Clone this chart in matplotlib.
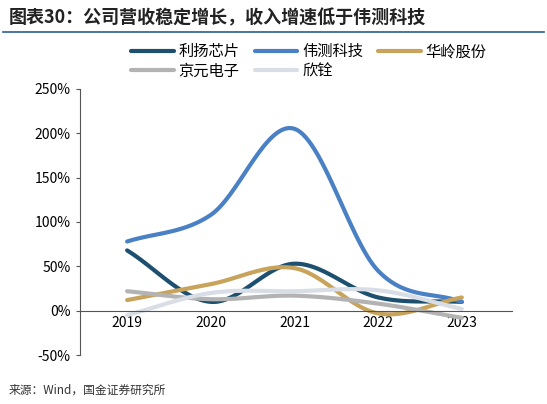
import numpy as np
import matplotlib
matplotlib.use("Agg")
import matplotlib.pyplot as plt
from matplotlib.lines import Line2D

plt.rcParams['font.family'] = ['Noto Sans CJK SC', 'DejaVu Sans']

years = [2019, 2020, 2021, 2022, 2023]
names = ['利扬芯片', '伟测科技', '华岭股份', '京元电子', '欣铨']
liyang = [68, 10, 53, 15, 10]
weice = [78, 108, 205, 45, 10]
hualing = [12, 30, 48, -3, 15]
jingyuan = [22, 13, 17, 8, -8]
xinquan = [-5, 20, 22, 23, 2]
series = [liyang, weice, hualing, jingyuan, xinquan]
colors = ['#1d4f6e', '#4a80c4', '#c8a35c', '#b3b3b3', '#d8dde6']

def smooth(x, y, n=30):
    x = np.asarray(x, float); y = np.asarray(y, float)
    px = np.concatenate([[2*x[0]-x[1]], x, [2*x[-1]-x[-2]]])
    py = np.concatenate([[2*y[0]-y[1]], y, [2*y[-1]-y[-2]]])
    xs, ys = [], []
    for i in range(1, len(px)-2):
        t = np.linspace(0, 1, n)
        for arr, out in ((px, xs), (py, ys)):
            p0, p1, p2, p3 = arr[i-1], arr[i], arr[i+1], arr[i+2]
            out.extend(0.5*((2*p1) + (-p0+p2)*t + (2*p0-5*p1+4*p2-p3)*t**2 + (-p0+3*p1-3*p2+p3)*t**3))
    return np.array(xs), np.array(ys)

fig = plt.figure(figsize=(5.47, 4.04), dpi=100)
fig.text(0.015, 0.955, '图表30：公司营收稳定增长，收入增速低于伟测科技', fontsize=13,
         fontweight='bold', style='italic', va='center', color='#222222')
fig.add_artist(Line2D([0.005, 0.995], [0.922, 0.922], color='#2a5f8f', lw=1.2))
fig.text(0.015, 0.035, '来源：Wind，国金证券研究所', fontsize=8.5, va='center', color='#333333')

ax = fig.add_axes([0.146, 0.121, 0.79, 0.659])
handles = []
for s, c, nm in zip(series, colors, names):
    xs, ys = smooth(years, s)
    h, = ax.plot(xs, ys, color=c, lw=3, label=nm, solid_capstyle='round')
    handles.append(h)
ax.set_xlim(2018.435, 2023.6)
ax.set_ylim(-50, 250)
ax.set_yticks(range(-50, 251, 50))
ax.set_yticklabels([f'{v}%' for v in range(-50, 251, 50)], fontsize=10)
ax.set_xticks(years)
ax.set_xticklabels([str(y) for y in years], fontsize=10)
for sp in ['top', 'right']:
    ax.spines[sp].set_visible(False)
ax.spines['bottom'].set_position(('data', 0))
ax.spines['bottom'].set_color('#555555')
ax.spines['left'].set_color('#555555')
ax.tick_params(axis='x', length=0, pad=4)
ax.tick_params(axis='y', length=3, color='#555555')
order = [0, 3, 1, 4, 2]
ax.legend([handles[i] for i in order], [names[i] for i in order],
          loc='lower center', bbox_to_anchor=(0.53, 1.0), ncol=3, frameon=False,
          fontsize=11, handlelength=2.8, columnspacing=1.0, labelspacing=0.15,
          handletextpad=0.3, borderaxespad=0.2)
fig.savefig('out.png')
